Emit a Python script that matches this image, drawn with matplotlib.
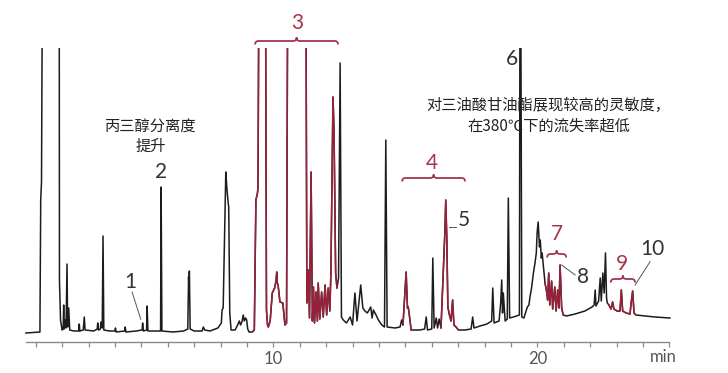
import matplotlib
matplotlib.use('Agg')
import matplotlib.pyplot as plt
from matplotlib.path import Path
from matplotlib.patches import PathPatch
import numpy as np

# chromatogram trace (min, detector signal)
times = [0.63, 1.16, 1.19, 1.22, 1.26, 1.89, 1.90, 1.94, 2.00, 2.04, 2.06, 2.08, 2.12, 2.15,
         2.186, 2.21, 2.25, 2.29, 2.45, 2.63, 2.65, 2.67, 2.80, 2.84, 2.87, 3.20, 3.33, 3.35,
         3.38, 3.45, 3.47, 3.52, 3.55, 3.58, 3.80, 4.00, 4.02, 4.05, 4.37, 4.39, 4.42, 4.80,
         5.03, 5.05, 5.08, 5.20, 5.22, 5.25, 5.50, 5.73, 5.75, 5.78, 6.20, 6.60, 6.76, 6.79,
         6.80, 6.82, 6.85, 7.00, 7.30, 7.35, 7.40, 7.60, 7.90, 8.03, 8.06, 8.10, 8.20, 8.24,
         8.27, 8.29, 8.31, 8.35, 8.40, 8.55, 8.65, 8.71, 8.76, 8.82, 8.86, 8.90, 8.95, 8.99,
         9.03, 9.08, 9.20, 9.28, 9.34, 9.40, 9.42, 9.46, 9.70, 9.74, 9.78, 9.81, 9.88, 9.96,
         10.05, 10.10, 10.13, 10.15, 10.18, 10.25, 10.36, 10.44, 10.50, 10.55, 11.23, 11.27,
         11.33, 11.37, 11.43, 11.48, 11.52, 11.56, 11.62, 11.67, 11.70, 11.76, 11.83, 11.89,
         11.96, 12.02, 12.08, 12.14, 12.18, 12.26, 12.30, 12.36, 12.41, 12.47, 12.53, 12.58,
         12.65, 12.77, 12.91, 13.00, 13.09, 13.17, 13.31, 13.39, 13.47, 13.56, 13.69, 13.74,
         13.79, 13.89, 13.98, 14.11, 14.21, 14.26, 14.31, 14.61, 14.80, 14.86, 14.91, 15.03,
         15.08, 15.11, 15.15, 15.22, 15.55, 15.73, 15.79, 15.84, 16.00, 16.04, 16.09, 16.17,
         16.22, 16.28, 16.35, 16.45, 16.50, 16.53, 16.57, 16.61, 16.67, 16.73, 16.79, 16.84,
         16.92, 17.01, 17.26, 17.49, 17.55, 17.60, 17.83, 18.09, 18.27, 18.31, 18.36, 18.55,
         18.61, 18.65, 18.68, 18.71, 18.78, 18.86, 18.90, 18.95, 19.09, 19.32, 19.345, 19.365,
         19.41, 19.49, 19.57, 19.62, 19.68, 19.72, 19.78, 19.85, 19.91, 19.96, 19.99, 20.03,
         20.08, 20.11, 20.15, 20.18, 20.23, 20.29, 20.36, 20.39, 20.43, 20.47, 20.54, 20.58,
         20.66, 20.71, 20.77, 20.82, 20.86, 20.92, 20.98, 21.11, 21.43, 21.80, 22.07, 22.15,
         22.19, 22.22, 22.32, 22.38, 22.42, 22.48, 22.53, 22.58, 22.62, 22.65, 22.71, 22.79,
         22.85, 22.90, 23.02, 23.13, 23.18, 23.23, 23.36, 23.51, 23.55, 23.61, 23.66, 23.74,
         24.08, 24.46, 25.02]
signal = [0, 1, 133, 151, 400, 400, 53, 13, 3, 4, 28, 4, 13, 5,
          69, 6, 25, 3, 2, 2, 9, 2, 3, 16, 3, 2, 4, 10,
          3, 4, 11, 5, 97, 3, 2, 2, 5, 1, 2, 6, 1, 2,
          3, 10, 2, 3, 27, 2, 2, 2, 146, 2, 1, 2, 4, 56,
          50, 62, 4, 2, 2, 6, 3, 2, 5, 10, 23, 25, 161, 145,
          136, 130, 126, 20, 3, 3, 8, 12, 8, 12, 18, 12, 15, 13,
          4, 1, 1, 3, 133, 140, 146, 400, 400, 23, 8, 6, 12, 40,
          45, 52, 61, 50, 48, 31, 30, 8, 10, 400, 400, 30,
          63, 15, 161, 12, 46, 10, 41, 12, 50, 14, 41, 16,
          48, 18, 45, 22, 60, 236, 200, 60, 45, 55, 270, 16,
          13, 10, 16, 8, 40, 12, 48, 25, 22, 20, 26, 15,
          23, 18, 13, 8, 6, 193, 6, 5, 6, 13, 8, 61,
          25, 26, 18, 3, 3, 4, 16, 3, 4, 75, 5, 15,
          5, 14, 5, 70, 103, 133, 95, 26, 18, 12, 33, 8,
          6, 3, 3, 4, 16, 5, 7, 9, 12, 45, 10, 12,
          30, 53, 20, 40, 12, 14, 135, 15, 16, 18, 400, 400,
          16, 15, 22, 26, 28, 36, 45, 60, 70, 80, 100, 111,
          86, 93, 75, 80, 66, 50, 40, 33, 60, 28, 52, 24,
          46, 22, 43, 25, 68, 25, 18, 17, 19, 22, 26, 28,
          43, 27, 32, 55, 32, 60, 40, 80, 35, 30, 28, 24,
          31, 24, 22, 22, 43, 22, 20, 19, 30, 42, 20, 18,
          17, 16, 15]

# retention windows highlighted in red (groups 3, 4, 7, 9)
red_windows = [(9.20, 12.41), (14.91, 15.22), (16.35, 17.01), (20.29, 20.98), (22.71, 23.74)]

# peak numbers: (label, time, height, colour key)
peak_labels = [("1", 4.58, 51, "k"), ("2", 5.75, 161, "k"), ("3", 10.89, 310, "r"),
               ("4", 16.01, 170, "r"), ("5", 17.20, 113, "k"), ("6", 19.04, 274, "k"),
               ("7", 20.75, 99, "r"), ("8", 21.73, 56, "k"), ("9", 23.20, 69, "r"),
               ("10", 24.37, 84, "k")]

# braces over the grouped peaks: (start, end, level)
braces = [(9.31, 12.45, 292), (14.88, 17.26, 155), (20.37, 21.09, 79), (22.78, 23.70, 54)]

# leader lines from labels to peaks
leaders = [((4.65, 4.98), (41, 13.7)), ((16.66, 16.92), (106.3, 106.3)),
           ((20.92, 21.43), (68, 58)), ((23.70, 24.27), (48, 71.3))]

RED = '#97213a'
RED_TXT = '#a3364d'
BLACK = '#1c1c1c'

plt.rcParams['font.family'] = ['Lato', 'Noto Sans CJK SC', 'DejaVu Sans']

fig = plt.figure(figsize=(7.28, 3.73), dpi=100)
ax = fig.add_axes([0, 0, 1, 325 / 373])
ax.set_xlim(-0.352, 27.22)
ax.set_ylim(-40, 285)

t = np.array(times)
s = np.array(signal)
ax.plot(t, s, color=BLACK, lw=1.1, solid_joinstyle='round')
for a, b in red_windows:
    m = (t >= a) & (t <= b)
    ax.plot(t[m], s[m], color=RED, lw=1.1, solid_joinstyle='round')


def draw_brace(x0, x1, y, h=3.5, r=0.13, color=RED_TXT):
    xm = (x0 + x1) / 2
    verts = [(x0, y - h), (x0, y), (x0 + r, y), (xm - r, y), (xm, y), (xm, y + h),
             (xm, y), (xm + r, y), (x1 - r, y), (x1, y), (x1, y - h)]
    codes = [Path.MOVETO, Path.CURVE3, Path.CURVE3, Path.LINETO, Path.CURVE3, Path.CURVE3,
             Path.CURVE3, Path.CURVE3, Path.LINETO, Path.CURVE3, Path.CURVE3]
    ax.add_patch(PathPatch(Path(verts, codes), fill=False, edgecolor=color, lw=1.3,
                           clip_on=False))


for x0, x1, y in braces:
    draw_brace(x0, x1, y)

for (xs, ys) in leaders:
    ax.plot(xs, ys, color='#555555', lw=0.7, clip_on=False)

for lab, x, y, c in peak_labels:
    ax.text(x, y, lab, ha='center', va='center', fontsize=15, fontweight='normal',
            color=RED_TXT if c == 'r' else '#333333')

cjk = ['Noto Sans CJK SC', 'DejaVu Sans']
ax.text(5.37, 206, "丙三醇分离度", ha='center', va='center', fontsize=11, family=cjk, color='#222222')
ax.text(5.37, 187, "提升", ha='center', va='center', fontsize=11, family=cjk, color='#222222')
ax.text(20.40, 228, "对三油酸甘油酯展现较高的灵敏度，", ha='center', va='center', fontsize=11,
        family=cjk, color='#222222')
ax.text(20.45, 207, "在380℃下的流失率超低", ha='center', va='center', fontsize=11,
        family=cjk, color='#222222')

# time axis
for side in ['left', 'right', 'top']:
    ax.spines[side].set_visible(False)
ax.spines['bottom'].set_position(('data', -9))
ax.spines['bottom'].set_bounds(0.65, 25.0)
ax.spines['bottom'].set_color('#8a8a8a')
ax.spines['bottom'].set_linewidth(1.0)
ax.set_yticks([])
ax.set_xticks([10, 20])
ax.set_xticks(np.arange(1, 26), minor=True)
ax.tick_params(axis='x', which='both', direction='out', length=3.5, width=0.9,
               color='#8a8a8a', labelsize=12, labelcolor='#555555', pad=3)
ax.text(24.76, -24, "min", ha='center', va='center', fontsize=12, color='#555555')
ax.patch.set_alpha(0)

fig.savefig('out.png', dpi=100)
